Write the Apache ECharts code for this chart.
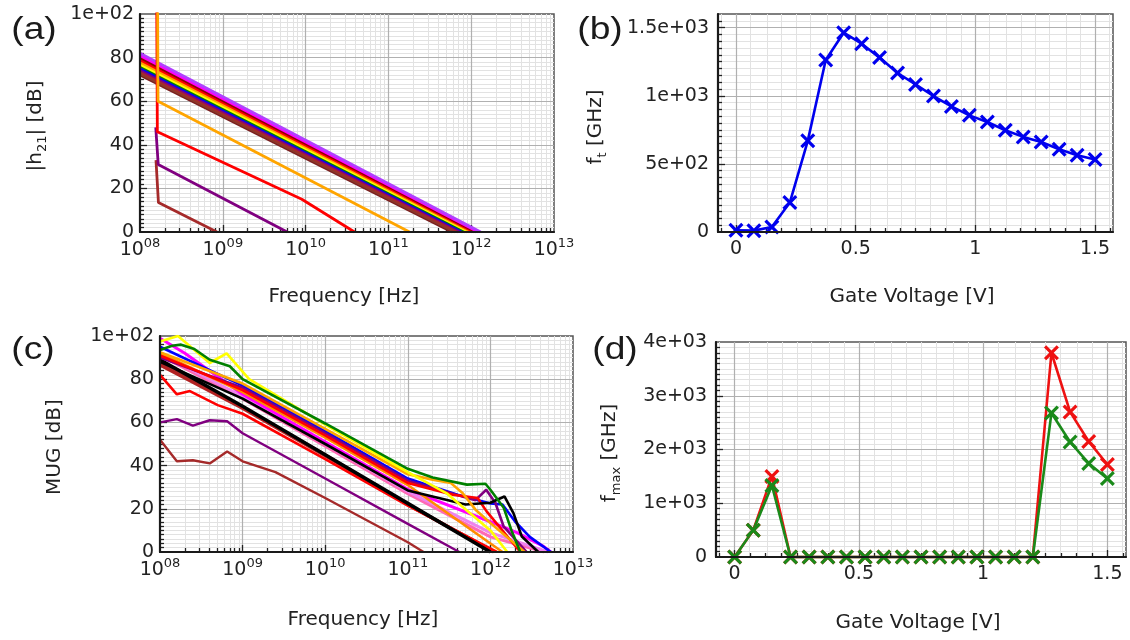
<!DOCTYPE html>
<html>
<head>
<meta charset="utf-8">
<script src="https://cdn.jsdelivr.net/npm/echarts@6/dist/echarts.min.js"></script>
<style>
  html, body { margin: 0; padding: 0; background: #ffffff; }
  #chart { width: 1130px; height: 640px; }
</style>
</head>
<body>
<div id="chart"></div>
<script>
// ---------------- data ----------------
// (a) current gain |h21| in dB, points are [frequency Hz, dB]
const h21Violet    = [[1e8, 82.0], [1.30e12, 0]];
const h21Magenta   = [[1e8, 81.0], [1.22e12, 0]];
const h21Maroon    = [[1e8, 80.0], [1.15e12, 0]];
const h21Red       = [[1e8, 79.0], [1.08e12, 0]];
const h21Orange    = [[1e8, 78.0], [1.02e12, 0]];
const h21Yellow    = [[1e8, 77.0], [9.6e11, 0]];
const h21Green     = [[1e8, 76.3], [9.0e11, 0]];
const h21Blue      = [[1e8, 75.5], [8.5e11, 0]];
const h21Purple    = [[1e8, 74.5], [7.9e11, 0]];
const h21Brown     = [[1e8, 73.5], [7.0e11, 0]];
const h21Sienna    = [[1e8, 72.7], [6.4e11, 0]];
const h21Dark      = [[1e8, 72.0], [5.9e11, 0]];
const h21LowOrange = [[1.55e8, 300], [1.65e8, 60], [1.8e11, 0]];
const h21LowRed    = [[1.50e8, 300], [1.62e8, 46], [9e9, 15], [3.9e10, 0]];
const h21LowPurple = [[1.55e8, 48], [1.66e8, 31], [6e9, 0]];
const h21LowBrown  = [[1.56e8, 33], [1.67e8, 13.5], [8.5e8, 0]];

// (b) and (d) gate voltage sweep [V]
const gateVoltage = [0, 0.075, 0.15, 0.225, 0.3, 0.375, 0.45, 0.525, 0.6, 0.675, 0.75,
                     0.825, 0.9, 0.975, 1.05, 1.125, 1.2, 1.275, 1.35, 1.425, 1.5];
// (b) cut-off frequency ft [GHz]
const ftGHz = [12, 10, 37, 216, 669, 1262, 1463, 1382, 1280, 1167, 1083,
               998, 922, 856, 807, 747, 698, 661, 607, 563, 532];

// (c) maximum unilateral gain, points are [frequency Hz, dB]
const mugBrownLow  = [[1e8, 52], [1.6e8, 42], [2.5e8, 42.5], [4e8, 41], [6.5e8, 46.5], [1e9, 42], [2.5e9, 37], [1e10, 25], [1e11, 4.5], [1.55e11, 0]];
const mugPurpleLow = [[1e8, 60], [1.6e8, 61.5], [2.5e8, 58.5], [4e8, 61], [6.5e8, 60.5], [1e9, 55], [1e10, 34], [1e11, 13], [4.2e11, 0]];
const mugBrown     = [[1e8, 87.5], [1e9, 67], [1e10, 45], [1e11, 22], [1e12, 1], [1.05e12, 0]];
const mugFirebrick = [[1e8, 86.5], [1e9, 66.5], [1e10, 44.5], [1e11, 22], [1.1e12, 0]];
const mugRedLow    = [[1e8, 82], [1.6e8, 73], [2.3e8, 74.5], [5e8, 68], [1e9, 64], [1e10, 43], [1e11, 21.5], [1.2e12, 0]];
const mugBlack     = [[1e8, 89], [1e9, 67.5], [1e10, 45], [1e11, 22.5], [1e12, 0]];
const mugPink      = [[1e8, 91], [1e9, 71], [1e10, 49], [1e11, 27], [1e12, 7], [4.5e12, 0]];
const mugViolet    = [[1e8, 92], [1e9, 72], [1e10, 50], [1e11, 28], [1e12, 9], [5e12, 0]];
const mugMagenta   = [[1e8, 99], [2e8, 92], [1e9, 73], [1e10, 51], [1e11, 29], [1e12, 14], [2.1e12, 9], [4.4e12, 2.6], [5.4e12, 0]];
const mugOrangeLow = [[1e8, 92], [1e9, 74], [1e10, 53], [1e11, 31], [1.4e12, 0]];
const mugBlue      = [[1e8, 95], [1e9, 77], [1e10, 56], [1e11, 34], [4e11, 26.5], [1e12, 22.5], [1.4e12, 22], [2e12, 14], [3e12, 7], [5.4e12, 0]];
const mugPurple    = [[1e8, 90], [1e9, 76], [1e10, 55], [1e11, 33], [6.6e11, 24], [8.9e11, 28.8], [1.15e12, 22.7], [1.45e12, 11.7], [2.75e12, 0]];
const mugRed       = [[1e8, 91], [1e9, 75], [1e10, 54], [1e11, 32], [3.5e11, 26.5], [7e11, 25], [9e11, 18.8], [2.3e12, 0]];
const mugBlackHigh = [[1e8, 88], [1e9, 71], [1e10, 50], [1e11, 28.5], [5e11, 22], [1e12, 22.8], [1.48e12, 25.7], [1.9e12, 18], [2.4e12, 7.2], [3.8e12, 0]];
const mugOrange    = [[1e8, 92.5], [1e9, 78], [1e10, 57], [1e11, 36], [2e11, 33.5], [3.3e11, 32], [4.6e11, 27.3], [6.6e11, 19.6], [1e12, 13.4], [2.6e12, 0]];
const mugYellow    = [[1e8, 97.5], [1.65e8, 100], [4e8, 87.5], [6.4e8, 92], [1.2e9, 80], [1e10, 59], [1e11, 37], [3e11, 27], [1e12, 10], [1.6e12, 0]];
const mugGreen     = [[1e8, 93.5], [1.4e8, 95.5], [1.8e8, 96], [2.6e8, 94], [4e8, 89], [7e8, 86], [1e9, 80], [1e10, 59.5], [1e11, 38.5], [2e11, 34.5], [5.2e11, 31.2], [8.7e11, 31.6], [1e12, 28.8], [1.45e12, 20.5], [1.8e12, 10], [2.3e12, 0]];

// (d) maximum oscillation frequency fmax [GHz]
const fmaxRed   = [0, 500, 1500, 0, 0, 0, 0, 0, 0, 0, 0, 0, 0, 0, 0, 0, 0, 3800, 2700, 2150, 1720];
const fmaxGreen = [0, 500, 1330, 0, 0, 0, 0, 0, 0, 0, 0, 0, 0, 0, 0, 0, 0, 2680, 2140, 1740, 1460];

// ---------------- styling helpers ----------------
const FONT = 'DejaVu Sans';
const TXT = '#222222';
const CROSS = 'path://M0,3 L3,0 L10,7 L17,0 L20,3 L13,10 L20,17 L17,20 L10,13 L3,20 L0,17 L7,10 Z';

const grids = [
  { left: 140, top: 14,  width: 414, height: 218 },  // (a)
  { left: 718, top: 14,  width: 395, height: 218 },  // (b)
  { left: 160, top: 336, width: 413, height: 216 },  // (c)
  { left: 716, top: 342, width: 410, height: 215 }   // (d)
];

function expLabel(v) {
  if (v === 0) return '0';
  const e = Math.floor(Math.log10(v) + 1e-9);
  const m = +(v / Math.pow(10, e)).toFixed(3);
  return m + 'e+' + String(e).padStart(2, '0');
}
function dbLabel(v) { return v === 100 ? '1e+02' : String(v); }
function powLabel(v) {
  const e = Math.round(Math.log10(v));
  return '{b|10}{s|' + String(e).padStart(2, '0') + '}';
}
const powRich = {
  b: { fontFamily: FONT, fontSize: 19, color: TXT, lineHeight: 26 },
  s: { fontFamily: FONT, fontSize: 13, color: TXT, lineHeight: 16, verticalAlign: 'top' }
};

// grid line / tick positions (layout only)
function range(from, to, step) { const r = []; for (let v = from; v <= to + 1e-9; v += step) r.push(+v.toFixed(6)); return r; }
function logMinor() { const r = []; for (let n = 8; n <= 12; n++) for (let k = 2; k <= 9; k++) r.push(k * Math.pow(10, n)); return r; }
const dbMinor = range(2, 98, 2).filter(v => v % 20 !== 0);
const dbMajor = [20, 40, 60, 80];
const decMajor = [1e9, 1e10, 1e11, 1e12];
const vMinor = range(-1, 25, 1).map(k => +(k * 0.0625).toFixed(6)).filter(v => Math.abs(v % 0.5) > 1e-9);
const vMajor = [0, 0.5, 1, 1.5];

function gridMarks(g, ax) {
  const out = [];
  const minor = { color: '#e2e2e2', width: 1, type: 'solid' };
  const major = { color: '#b0b0b0', width: 1.2, type: 'solid' };
  const tick = { color: '#222222', width: 1.3, type: 'solid' };
  const yPx = (px) => ax.yMin + px * (ax.yMax - ax.yMin) / g.height;
  const xPx = ax.log
    ? (px) => ax.xMin * Math.pow(10, px * Math.log10(ax.xMax / ax.xMin) / g.width)
    : (px) => ax.xMin + px * (ax.xMax - ax.xMin) / g.width;
  ax.xMinor.forEach(v => out.push({ xAxis: v, lineStyle: minor }));
  ax.yMinor.forEach(v => out.push({ yAxis: v, lineStyle: minor }));
  ax.xMajor.forEach(v => out.push({ xAxis: v, lineStyle: major }));
  ax.yMajor.forEach(v => out.push({ yAxis: v, lineStyle: major }));
  ax.xMinor.forEach(v => out.push([{ coord: [v, ax.yMin], lineStyle: tick }, { coord: [v, yPx(4)] }]));
  ax.xMajor.forEach(v => out.push([{ coord: [v, ax.yMin], lineStyle: tick }, { coord: [v, yPx(7)] }]));
  ax.yMinor.forEach(v => out.push([{ coord: [ax.xMin, v], lineStyle: tick }, { coord: [xPx(4), v] }]));
  ax.yMajor.forEach(v => out.push([{ coord: [ax.xMin, v], lineStyle: tick }, { coord: [xPx(7), v] }]));
  return out;
}

const axesInfo = [
  { log: true,  xMin: 1e8,    xMax: 1e13,  yMin: 0, yMax: 100,  xMinor: logMinor(), xMajor: decMajor, yMinor: dbMinor, yMajor: dbMajor },
  { log: false, xMin: -0.075, xMax: 1.575, yMin: 0, yMax: 1600, xMinor: vMinor, xMajor: vMajor,
    yMinor: range(50, 1550, 50).filter(v => v % 500 !== 0), yMajor: [500, 1000, 1500] },
  { log: true,  xMin: 1e8,    xMax: 1e13,  yMin: 0, yMax: 100,  xMinor: logMinor(), xMajor: decMajor, yMinor: dbMinor, yMajor: dbMajor },
  { log: false, xMin: -0.075, xMax: 1.575, yMin: 0, yMax: 4000, xMinor: vMinor, xMajor: vMajor,
    yMinor: range(100, 3900, 100).filter(v => v % 1000 !== 0), yMajor: [1000, 2000, 3000] }
];

const axisLine = { show: true, onZero: false, lineStyle: { color: '#1a1a1a', width: 2.2 } };
const labelBase = { fontFamily: FONT, fontSize: 19, color: TXT };

const xAxes = axesInfo.map((a, i) => a.log ? {
  gridIndex: i, type: 'log', logBase: 10, min: a.xMin, max: a.xMax, z: 4,
  axisLine, axisTick: { show: false }, splitLine: { show: false },
  axisLabel: { ...labelBase, margin: 5, formatter: powLabel, rich: powRich }
} : {
  gridIndex: i, type: 'value', min: a.xMin, max: a.xMax, z: 4,
  axisLine, axisTick: { show: false }, splitLine: { show: false },
  axisLabel: { ...labelBase, margin: 8, customValues: [0, 0.5, 1, 1.5], formatter: v => String(v) }
});

const yAxes = axesInfo.map((a, i) => ({
  gridIndex: i, type: 'value', min: a.yMin, max: a.yMax, z: 4,
  interval: a.log ? 20 : (a.yMax === 1600 ? 500 : 1000),
  axisLine, axisTick: { show: false }, splitLine: { show: false },
  axisLabel: { ...labelBase, margin: a.log ? 6 : 9, showMaxLabel: a.yMax !== 1600,
               formatter: a.log ? dbLabel : expLabel }
}));

// one background series per panel carries the grid lines and ticks
const gridSeries = axesInfo.map((a, i) => ({
  type: 'line', xAxisIndex: i, yAxisIndex: i, data: [], z: 1, silent: true,
  markLine: { silent: true, symbol: ['none', 'none'], label: { show: false }, animation: false,
              z: 1, data: gridMarks(grids[i], a) }
}));

function curve(idx, data, color, width) {
  return { type: 'line', xAxisIndex: idx, yAxisIndex: idx, data, z: 3, showSymbol: false,
           clip: true, lineStyle: { color, width: width || 2.6 }, itemStyle: { color } };
}
function crossSeries(idx, ys, color) {
  return { type: 'line', xAxisIndex: idx, yAxisIndex: idx, z: 3, clip: false,
           data: gateVoltage.map((v, k) => [v, ys[k]]),
           symbol: CROSS, symbolSize: 15, showSymbol: true,
           lineStyle: { color, width: 2.6 }, itemStyle: { color } };
}

const seriesA = [
  [h21Dark, '#7a1f1f'], [h21Sienna, '#8b3a2a'], [h21Brown, '#a52a2a'], [h21Purple, '#800080'],
  [h21Blue, '#0000ff'], [h21Green, '#008000'], [h21Yellow, '#ffff00'], [h21Orange, '#ffa500'],
  [h21Red, '#ff0000'], [h21Maroon, '#8b0000'], [h21Magenta, '#ff00ff'], [h21Violet, '#b040ff'],
  [h21LowBrown, '#a52a2a'], [h21LowPurple, '#800080'], [h21LowRed, '#ff0000'], [h21LowOrange, '#ffa500']
].map(([d, c]) => curve(0, d, c, 2.8));

const seriesC = [
  [mugBrownLow, '#a52a2a', 2.4], [mugPurpleLow, '#800080', 2.4],
  [mugBrown, '#a52a2a', 3.2], [mugFirebrick, '#b22222', 3.2], [mugRedLow, '#ff0000', 2.6],
  [mugBlack, '#000000', 3.6], [mugPink, '#ff69b4', 3], [mugViolet, '#ee82ee', 3],
  [mugMagenta, '#ff00ff', 3], [mugOrangeLow, '#ff8c00', 2.6], [mugBlue, '#0000ff', 2.6],
  [mugPurple, '#800080', 2.6], [mugRed, '#ff0000', 2.6], [mugBlackHigh, '#000000', 2.6],
  [mugOrange, '#ffa500', 2.6], [mugYellow, '#ffff00', 2.6], [mugGreen, '#008000', 2.6]
].map(([d, c, w]) => curve(2, d, c, w));

const seriesB = [crossSeries(1, ftGHz, '#0000ee')];
const seriesD = [crossSeries(3, fmaxRed, '#ee1111'), crossSeries(3, fmaxGreen, '#1a8a1a')];

// ---------------- titles ----------------
const nameRich = {
  t: { fontFamily: FONT, fontSize: 20, fill: TXT, lineHeight: 26 },
  s: { fontFamily: FONT, fontSize: 13, fill: TXT, lineHeight: 14, verticalAlign: 'bottom' }
};
function label(x, y, text, rotate) {
  return { type: 'text', x, y, rotation: rotate ? Math.PI / 2 : 0, z: 10, silent: true,
           style: { text, rich: nameRich, align: 'center', verticalAlign: 'middle',
                    fontFamily: FONT, fontSize: 20, fill: TXT } };
}
function panelTag(x, y, text) {
  return { type: 'text', x, y, scaleX: 1.2, z: 10, silent: true,
           style: { text, align: 'center', verticalAlign: 'middle',
                    fontFamily: 'Liberation Sans', fontSize: 31, fill: '#1a1a1a' } };
}

const graphics = [
  panelTag(34, 30, '(a)'), panelTag(600, 30, '(b)'), panelTag(33, 350, '(c)'), panelTag(615, 350, '(d)'),
  label(344, 297, '{t|Frequency [Hz]}'),
  label(912, 297, '{t|Gate Voltage [V]}'),
  label(363, 620, '{t|Frequency [Hz]}'),
  label(918, 623, '{t|Gate Voltage [V]}'),
  label(36, 126, '{t||h}{s|21}{t|| [dB]}', true),
  label(596, 127, '{t|f}{s|t}{t| [GHz]}', true),
  label(55, 447, '{t|MUG [dB]}', true),
  label(610, 453, '{t|f}{s|max}{t| [GHz]}', true)
];

const chart = echarts.init(document.getElementById('chart'), null, { renderer: 'canvas' });
chart.setOption({
  animation: false,
  backgroundColor: '#ffffff',
  grid: grids.map(g => ({ ...g, show: true, borderColor: '#555555', borderWidth: 1.5,
                          backgroundColor: 'transparent', containLabel: false })),
  xAxis: xAxes,
  yAxis: yAxes,
  series: [...gridSeries, ...seriesA, ...seriesB, ...seriesC, ...seriesD],
  graphic: graphics
});
</script>
</body>
</html>
